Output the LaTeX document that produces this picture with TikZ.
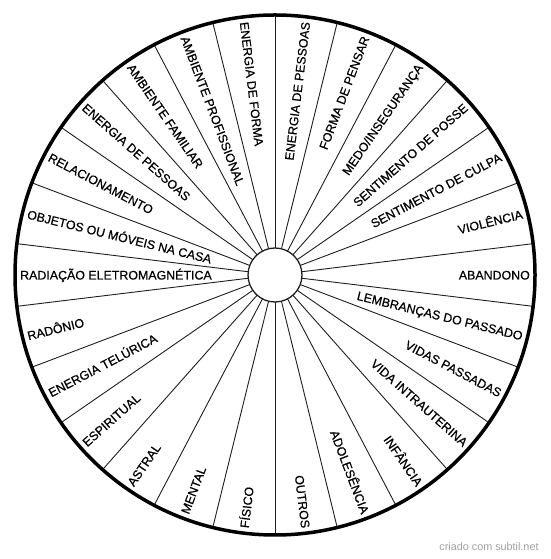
\documentclass[tikz,border=0pt]{standalone}
\usepackage{fontspec}
\setmainfont{Liberation Sans}
\newfontfamily\wheelfont[FakeBold=0.6]{Liberation Sans}
\usepackage{tikz}
\usetikzlibrary{calc}
\definecolor{wheelline}{RGB}{30,30,30}
\definecolor{markgray}{RGB}{160,160,160}

\begin{document}
\begin{tikzpicture}[x=1pt,y=1pt,
  rim/.style={draw=black,line width=3.5pt},
  spoke/.style={draw=wheelline,line width=0.9pt},
  hub/.style={draw=wheelline,line width=1.3pt,fill=white},
  lab/.style={inner sep=0pt,text height=9pt,text depth=0pt,font=\wheelfont\fontsize{12.4}{14}\selectfont}]
  \useasboundingbox (0,0) rectangle (550,559);
  \coordinate (O) at (275,284);
  % spokes between the sectors
  \foreach \k in {0,...,25}
    \draw[spoke] ($(O)+(90-\k*360/26:27pt)$) -- ($(O)+(90-\k*360/26:260pt)$);
  \draw[rim] (O) circle (260pt);
  \draw[hub] (O) circle (27pt);
  % labels, clockwise from the top
  \foreach \txt [count=\j from 0] in {ENERGIA DE PESSOAS,FORMA DE PENSAR,MEDO/INSEGURANÇA,
      SENTIMENTO DE POSSE,SENTIMENTO DE CULPA,VIOLÊNCIA,ABANDONO,LEMBRANÇAS DO PASSADO,
      VIDAS PASSADAS,VIDA INTRAUTERINA,INFÂNCIA,ADOLESÊNCIA,OUTROS,
      FÍSICO,MENTAL,ASTRAL,ESPIRITUAL,ENERGIA TELÚRICA,RADÔNIO,RADIAÇÃO ELETROMAGNÉTICA,
      OBJETOS OU MÓVEIS NA CASA,RELACIONAMENTO,ENERGIA DE PESSOAS,AMBIENTE FAMILIAR,
      AMBIENTE PROFISSIONAL,ENERGIA DE FORMA}{
    \pgfmathsetmacro\ang{90-(\j+0.5)*360/26}
    \ifnum\j<13
      \node[lab,anchor=east,rotate=\ang] (lab\j) at ($(O)+(\ang:255pt)$) {\txt};
    \else
      \node[lab,anchor=west,rotate=\ang+180] (lab\j) at ($(O)+(\ang:255pt)$) {\txt};
    \fi
  }
  \node[text=markgray,inner sep=0pt,font=\fontsize{10.8}{12}\selectfont] (mark) at (489,12) {criado com subtil.net};
\end{tikzpicture}
\end{document}
